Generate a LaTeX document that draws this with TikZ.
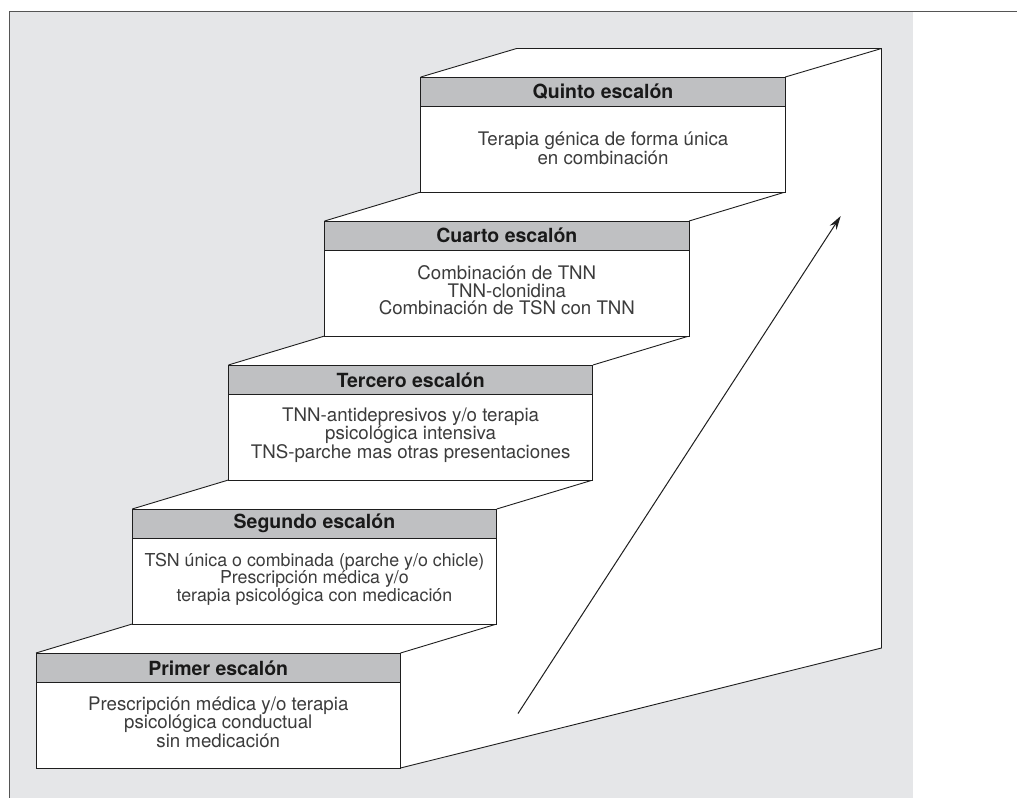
\documentclass[tikz,border=0pt]{standalone}
\usepackage{fontspec}
\setmainfont{TeX Gyre Heros}
\usetikzlibrary{arrows.meta}
\definecolor{bggray}{RGB}{229,230,232}
\definecolor{headgray}{RGB}{191,192,194}
\definecolor{framegray}{RGB}{85,85,85}
\definecolor{linegray}{RGB}{30,30,30}
\definecolor{bodytext}{RGB}{60,60,60}
\definecolor{headtext}{RGB}{25,25,25}
\begin{document}
\begin{tikzpicture}[x=1pt,y=-1pt,
  frameline/.style={draw=framegray, line width=1.4pt},
  stairline/.style={draw=linegray, line width=0.9pt},
  headbox/.style={draw=linegray, line width=0.9pt, fill=headgray,
    minimum width=364.5pt, minimum height=29.5pt, inner sep=0pt, outer sep=0pt,
    anchor=north west, font=\fontsize{19.5}{19.5}\selectfont\bfseries, text=headtext},
  bodybox/.style={draw=linegray, line width=0.9pt, fill=white,
    minimum width=364.5pt, minimum height=85.5pt, inner sep=0pt, outer sep=0pt,
    anchor=north west},
  bodytxt/.style={align=center, inner sep=0pt, font=\fontsize{18.7}{17.5}\selectfont, text=bodytext},
  risearrow/.style={draw=linegray, line width=1pt, -{Stealth[length=14pt,width=8pt]}}
]
\useasboundingbox (0,0) rectangle (1017,798);
% background panel and frame
\fill[bggray] (10,12) rectangle (913,798);
\draw[frameline] (9.3,11.5) -- (1017,11.5);
\draw[frameline] (9.5,11.5) -- (9.5,798);

% corner coordinates of the steps
\foreach \i in {1,...,5}{
  \pgfmathsetmacro\L{36+96.2*(\i-1)}
  \pgfmathsetmacro\T{653-144*(\i-1)}
  \pgfmathsetmacro\R{\L+364.5}
  \pgfmathsetmacro\B{\T+115}
  \coordinate (c\i tl) at (\L,\T);
  \coordinate (c\i tr) at (\R,\T);
  \coordinate (c\i bl) at (\L,\B);
  \coordinate (c\i br) at (\R,\B);
  \coordinate (c\i hb) at (\L,\T+29.5);
}
\coordinate (backL) at (516.6,48.5);
\coordinate (backR) at (881.5,48.5);
\coordinate (sideB) at (881.5,648);

% white body of the staircase
\fill[white] (c1bl) -- (c1tl) -- (c2bl) -- (c2tl) -- (c3bl) -- (c3tl) -- (c4bl) -- (c4tl)
  -- (c5bl) -- (c5tl) -- (backL) -- (backR) -- (sideB) -- (c1br) -- cycle;

% tread edges
\draw[stairline] (c1tl) -- (c2bl) (c2tl) -- (c3bl) (c3tl) -- (c4bl) (c4tl) -- (c5bl) (c5tl) -- (backL) -- (backR) -- (sideB) -- (c1br);
\draw[stairline] (c1tr) -- (c2br) (c2tr) -- (c3br) (c3tr) -- (c4br) (c4tr) -- (c5br) (c5tr) -- (backR);

% step boxes
\node[bodybox] (b1) at (c1hb) {};
\node[headbox] (h1) at (c1tl) {Primer escalón};
\node[bodytxt] (t1) at ([yshift=3pt]b1.center) {Prescripción médica y/o terapia\\psicológica conductual\\sin medicación};

\node[bodybox] (b2) at (c2hb) {};
\node[headbox] (h2) at (c2tl) {Segundo escalón};
\node[bodytxt, font=\fontsize{17.8}{17.5}\selectfont] (t2) at ([yshift=2pt]b2.center) {TSN única o combinada (parche y/o chicle)\\Prescripción médica y/o\\terapia psicológica con medicación};

\node[bodybox] (b3) at (c3hb) {};
\node[headbox] (h3) at (c3tl) {Tercero escalón};
\node[bodytxt] (t3) at ([yshift=2pt]b3.center) {TNN-antidepresivos y/o terapia\\psicológica intensiva\\TNS-parche mas otras presentaciones};

\node[bodybox] (b4) at (c4hb) {};
\node[headbox] (h4) at (c4tl) {Cuarto escalón};
\node[bodytxt] (t4) at ([yshift=3pt]b4.center) {Combinación de TNN\\TNN-clonidina\\Combinación de TSN con TNN};

\node[bodybox] (b5) at (c5hb) {};
\node[headbox] (h5) at (c5tl) {Quinto escalón};
\node[bodytxt] (t5) at ([yshift=1pt]b5.center) {Terapia génica de forma única\\en combinación};

% rising arrow
\coordinate (arrS) at (518,713.5);
\coordinate (arrE) at (840.7,216);
\draw[risearrow] (arrS) -- (arrE);
\end{tikzpicture}
\end{document}
